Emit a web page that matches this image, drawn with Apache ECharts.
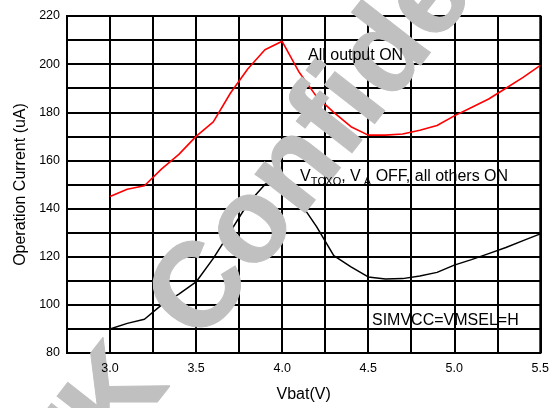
<!DOCTYPE html>
<html>
<head>
<meta charset="utf-8">
<script src="https://cdn.jsdelivr.net/npm/echarts@6/dist/echarts.min.js"></script>
<style>
html,body{margin:0;padding:0;background:#fff;}
#c{width:552px;height:408px;}
</style>
</head>
<body>
<div id="c"></div>
<script>
const vbat = [3.0,3.1,3.2,3.3,3.4,3.5,3.6,3.7,3.8,3.9,4.0,4.1,4.2,4.3,4.4,4.5,4.6,4.7,4.8,4.9,5.0,5.1,5.2,5.3,5.4,5.5];
const allOutputOn = [145,148,149.5,156.5,162.5,170,176,188,198,206,209.5,196.5,186.5,180,174,170.5,170.5,171,172.5,174.5,178.5,182,185.5,190,194.5,199.5];
const tcxoVaOff = [90,92.3,94,100,104.5,109.5,119.3,130.5,142,150,154,143,132.5,120.5,115.8,111.6,110.7,110.9,112,113.5,116.5,118.8,121.3,123.8,126.7,129.5];
const xTickLabels = ['3.0','3.5','4.0','4.5','5.0','5.5'];
const yTickLabels = ['80','100','120','140','160','180','200','220'];
const xAxisName = 'Vbat(V)';
const yAxisName = 'Operation Current (uA)';
const watermarkWords = ['MTK', 'Confidential'];

const FONT = 'Liberation Sans, Arial, sans-serif';
const chart = echarts.init(document.getElementById('c'), null, {renderer:'canvas'});

const xFmt = v => { const s = v.toFixed(1); return xTickLabels.includes(s) && Math.abs(v*2-Math.round(v*2))<1e-6 ? s : ''; };
const yFmt = v => { const s = String(Math.round(v)); return yTickLabels.includes(s) ? s : ''; };

const baseX = {type:'value', min:2.75, max:5.5, interval:0.25, gridIndex:0, position:'bottom'};
const baseY = {type:'value', min:80, max:220, interval:10, gridIndex:0, position:'left'};

// watermark geometry
const wmDeg = 52, wmSize = 120;
const th = wmDeg * Math.PI / 180;
const dir = [Math.cos(th), -Math.sin(th)];
const cCenter = [202, 291];
const L = [cCenter[0] - 0.361*wmSize*dir[0], cCenter[1] - 0.361*wmSize*dir[1]];
const gap = 50;
const R = [L[0] - gap*dir[0], L[1] - gap*dir[1]];
const wmStyle = {fill:'#c0c0c0', stroke:'#c0c0c0', lineWidth:1, font:'bold ' + wmSize + 'px ' + FONT, verticalAlign:'middle'};

chart.setOption({
  animation:false,
  backgroundColor:'#fff',
  grid:{left:67, right:10, top:16, bottom:53, show:true, borderColor:'#000', borderWidth:2},
  xAxis:[
    Object.assign({}, baseX, {z:0,
      axisLine:{show:true, lineStyle:{color:'#000', width:2}},
      axisTick:{show:false}, axisLabel:{show:false},
      splitLine:{show:true, lineStyle:{color:'#000', width:2}}}),
    Object.assign({}, baseX, {z:10,
      axisLine:{show:false}, axisTick:{show:false}, splitLine:{show:false},
      axisLabel:{show:true, formatter:xFmt, color:'#000', fontSize:12.5, fontFamily:FONT, margin:9},
      name:xAxisName, nameLocation:'middle', nameGap:34,
      nameTextStyle:{color:'#000', fontSize:16, fontFamily:FONT}})
  ],
  yAxis:[
    Object.assign({}, baseY, {z:0,
      axisLine:{show:true, lineStyle:{color:'#000', width:2}},
      axisTick:{show:false}, axisLabel:{show:false},
      splitLine:{show:true, lineStyle:{color:'#000', width:2}}}),
    Object.assign({}, baseY, {z:10,
      axisLine:{show:false}, axisTick:{show:false}, splitLine:{show:false},
      axisLabel:{show:true, formatter:yFmt, color:'#000', fontSize:12.5, fontFamily:FONT, margin:7},
      name:yAxisName, nameLocation:'middle', nameGap:37,
      nameTextStyle:{color:'#000', fontSize:16, fontFamily:FONT}})
  ],
  series:[
    {type:'line', name:'All output ON', xAxisIndex:0, yAxisIndex:0, z:2,
     data:vbat.map((v,i)=>[v, allOutputOn[i]]), symbol:'none',
     lineStyle:{color:'#ff0000', width:1.6}},
    {type:'line', name:'VTCXO, VA OFF, all others ON', xAxisIndex:0, yAxisIndex:0, z:2,
     data:vbat.map((v,i)=>[v, tcxoVaOff[i]]), symbol:'none',
     lineStyle:{color:'#000', width:1.5}}
  ],
  graphic:[
    {type:'text', z:5, x:L[0], y:L[1], rotation:th, silent:true,
     style:Object.assign({text:watermarkWords[1], align:'left'}, wmStyle)},
    {type:'text', z:5, x:R[0], y:R[1], rotation:th, silent:true,
     style:Object.assign({text:watermarkWords[0], align:'right'}, wmStyle)},
    {type:'text', z:20, x:308, y:56,
     style:{text:'All output ON', fill:'#000', font:'16px ' + FONT, align:'left', verticalAlign:'middle'}},
    {type:'text', z:20, x:300, y:177,
     style:{text:'{m|V}{s|TCXO}{m|, V}{s| A}{m| OFF, all others ON}', fill:'#000', align:'left', verticalAlign:'middle',
       rich:{m:{fontSize:16, fontFamily:FONT, lineHeight:20, verticalAlign:'middle'},
             s:{fontSize:11, fontFamily:FONT, lineHeight:11, verticalAlign:'bottom'}}}},
    {type:'text', z:20, x:372, y:321,
     style:{text:'SIMVCC=VMSEL=H', fill:'#000', font:'16px ' + FONT, align:'left', verticalAlign:'middle'}}
  ]
});
</script>
</body>
</html>
